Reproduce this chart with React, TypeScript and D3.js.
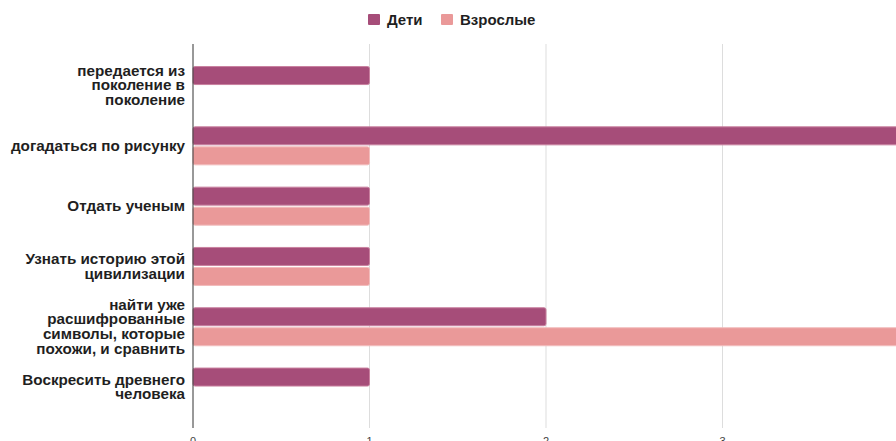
import React from "react";
import * as d3 from "d3";

const categories: string[][] = [
  ["передается из", "поколение в", "поколение"],
  ["догадаться по рисунку"],
  ["Отдать ученым"],
  ["Узнать историю этой", "цивилизации"],
  ["найти уже", "расшифрованные", "символы, которые", "похожи, и сравнить"],
  ["Воскресить древнего", "человека"],
];
const seriesNames = ["Дети", "Взрослые"];
const childrenValues = [1, 4, 1, 1, 2, 1];
const adultValues = [0, 1, 1, 1, 4, 0];
const xTicks = [0, 1, 2, 3, 4];
const colors = ["#a64d79", "#ea9999"];
const strokes = ["#c9819f", "#f2bcbc"];

export default function App() {
  const W = 896, H = 441;
  const x = d3.scaleLinear().domain([0, 4]).range([193, 899]);
  const y = d3.scaleBand<number>().domain(d3.range(categories.length)).range([55.4, 417.2]);
  const barH = 18, gap = 2;
  const series = [childrenValues, adultValues];
  const font = "'Liberation Sans', Arial, sans-serif";
  return (
    <svg width={W} height={H} style={{ position: "absolute", left: 0, top: 0, background: "#fff" }} fontFamily={font}>
      {xTicks.slice(1).map((t) => (
        <line key={t} x1={x(t)} x2={x(t)} y1={44} y2={428} stroke="#dddddd" strokeWidth={1} />
      ))}
      {categories.map((_, i) => {
        const c = (y(i) as number) + y.bandwidth() / 2;
        const top = c - barH - gap / 2;
        return series.map((vals, s) =>
          vals[i] > 0 ? (
            <rect
              key={`${i}-${s}`}
              x={x(0)}
              y={top + s * (barH + gap)}
              width={x(vals[i]) - x(0)}
              height={barH}
              rx={2}
              fill={colors[s]}
              stroke={strokes[s]}
              strokeWidth={1}
            />
          ) : null
        );
      })}
      <line x1={x(0)} x2={x(0)} y1={44} y2={428} stroke="#333" strokeWidth={1} />
      {xTicks.map((t) => (
        <text key={t} x={x(t)} y={445} textAnchor="middle" fontSize={11} fill="#444">
          {t}
        </text>
      ))}
      <g transform="translate(185,0) scale(1.09,1)">
        {categories.map((lines, i) => {
          const c = (y(i) as number) + y.bandwidth() / 2;
          const lh = 14.6;
          const start = c - ((lines.length - 1) * lh) / 2;
          return (
            <text key={i} textAnchor="end" fontSize={14} fontWeight="bold" fill="#1f1f1f">
              {lines.map((l, k) => (
                <tspan key={k} x={0} y={start + k * lh} dy="0.35em">
                  {l}
                </tspan>
              ))}
            </text>
          );
        })}
      </g>
      {seriesNames.map((n, s) => {
        const lx = [368, 441][s];
        return (
          <g key={n}>
            <rect x={lx} y={14} width={12} height={11} rx={1} fill={colors[s]} />
            <text x={lx + 19} y={25} fontSize={15} fontWeight="bold" fill="#1f1f1f">
              {n}
            </text>
          </g>
        );
      })}
    </svg>
  );
}
